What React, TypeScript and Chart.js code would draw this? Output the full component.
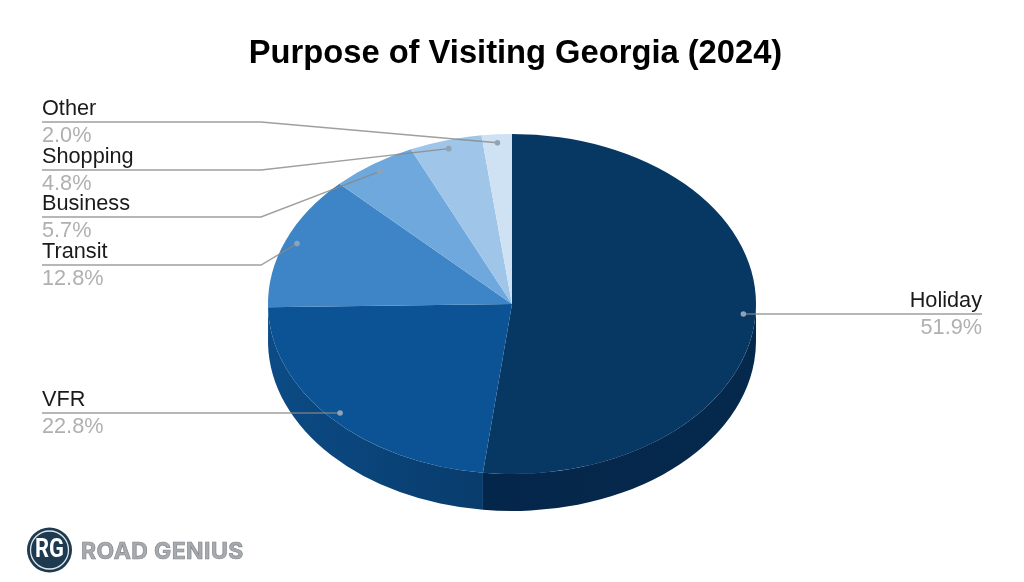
import React, { useEffect, useRef } from "react";
import { Chart, registerables } from "chart.js";

Chart.register(...registerables);

const categories = ["Holiday", "VFR", "Transit", "Business", "Shopping", "Other"];
const shares = [51.9, 22.8, 12.8, 5.7, 4.8, 2.0];
const topColors = ["#073763", "#0b5394", "#3d85c6", "#6fa8dc", "#9fc5e8", "#cfe2f3"];
const wallColors = [
  ["#05294c", "#04264a"],
  ["#083c6c", "#0c4b85"],
  ["#2a6aa5", "#2a6aa5"],
  ["#4f88bd", "#4f88bd"],
  ["#7aa4c8", "#7aa4c8"],
  ["#a5c0d6", "#a5c0d6"],
];
const chartTitle = "Purpose of Visiting Georgia (2024)";
const brandName = "ROAD GENIUS";
const brandInitials = "RG";

const FONT = '"Liberation Sans", Arial, sans-serif';
const CX = 512;
const CY = 304;
const RX = 244;
const RY = 170;
const DEPTH = 37;

const leaderRows: Record<string, { y: number; side: "left" | "right"; elbow: boolean }> = {
  Holiday: { y: 314, side: "right", elbow: false },
  VFR: { y: 413, side: "left", elbow: false },
  Transit: { y: 265, side: "left", elbow: true },
  Business: { y: 217, side: "left", elbow: true },
  Shopping: { y: 170, side: "left", elbow: true },
  Other: { y: 122, side: "left", elbow: true },
};

const pie3d = {
  id: "pie3d",
  beforeDatasetDraw(chart: any) {
    const ctx = chart.ctx as CanvasRenderingContext2D;
    const arcs = chart.getDatasetMeta(0).data;
    ctx.save();
    arcs.forEach((arc: any, i: number) => {
      const a0 = Math.max(arc.startAngle, 0);
      const a1 = Math.min(arc.endAngle, Math.PI);
      if (a1 <= a0) return;
      const xa = CX + RX * Math.cos(a0);
      const xb = CX + RX * Math.cos(a1);
      const grad = ctx.createLinearGradient(xa, 0, xb, 0);
      grad.addColorStop(0, wallColors[i][0]);
      grad.addColorStop(1, wallColors[i][1]);
      ctx.beginPath();
      ctx.ellipse(CX, CY, RX, RY, 0, a0, a1);
      ctx.ellipse(CX, CY + DEPTH, RX, RY, 0, a1, a0, true);
      ctx.closePath();
      ctx.fillStyle = grad;
      ctx.fill();
    });
    ctx.restore();
    const first = arcs[0];
    ctx.save();
    ctx.translate(CX, CY);
    ctx.scale(RX / first.outerRadius, RY / first.outerRadius);
    ctx.translate(-first.x, -first.y);
  },
  afterDatasetDraw(chart: any) {
    chart.ctx.restore();
  },
  afterDatasetsDraw(chart: any) {
    const ctx = chart.ctx as CanvasRenderingContext2D;
    const arcs = chart.getDatasetMeta(0).data;
    ctx.save();
    categories.forEach((name, i) => {
      const arc = arcs[i];
      const mid = (arc.startAngle + arc.endAngle) / 2;
      const dx = CX + RX * 0.95 * Math.cos(mid);
      const dy = CY + RY * 0.95 * Math.sin(mid);
      const row = leaderRows[name];
      const left = row.side === "left";

      ctx.strokeStyle = "rgba(135,135,135,0.8)";
      ctx.lineWidth = 1.4;
      ctx.beginPath();
      if (left) {
        ctx.moveTo(42, row.y);
        if (row.elbow) {
          ctx.lineTo(261, row.y);
          ctx.lineTo(dx, dy);
        } else {
          ctx.lineTo(dx, row.y);
        }
      } else {
        ctx.moveTo(982, row.y);
        ctx.lineTo(dx, row.y);
      }
      ctx.stroke();

      ctx.fillStyle = "#8fa3b3";
      ctx.beginPath();
      ctx.arc(dx, row.elbow ? dy : row.y, 2.8, 0, Math.PI * 2);
      ctx.fill();

      ctx.textAlign = left ? "left" : "right";
      ctx.textBaseline = "alphabetic";
      const tx = left ? 42 : 982;
      ctx.font = `21.7px ${FONT}`;
      ctx.fillStyle = "#1a1a1a";
      ctx.fillText(name, tx, row.y - 7);
      ctx.fillStyle = "#b0b0b0";
      ctx.fillText(`${shares[i].toFixed(1)}%`, tx, row.y + 20);
    });

    // brand mark
    ctx.fillStyle = "#1d3a50";
    ctx.beginPath();
    ctx.arc(49.5, 550, 22.5, 0, Math.PI * 2);
    ctx.fill();
    ctx.strokeStyle = "#dfe6ea";
    ctx.lineWidth = 1.3;
    ctx.beginPath();
    ctx.arc(49.5, 550, 19, 0, Math.PI * 2);
    ctx.stroke();
    ctx.textAlign = "center";
    ctx.textBaseline = "middle";
    ctx.fillStyle = "#ffffff";
    ctx.font = `bold 25px "Roboto", ${FONT}`;
    ctx.fillText(brandInitials, 49.5, 551, 29);
    ctx.textAlign = "left";
    ctx.textBaseline = "alphabetic";
    ctx.font = `bold 23px "Inter", "DejaVu Sans", ${FONT}`;
    (ctx as any).letterSpacing = "0.4px";
    ctx.fillStyle = "#a6abae";
    ctx.strokeStyle = "#85898d";
    ctx.lineWidth = 0.7;
    ctx.fillText(brandName, 81, 559);
    ctx.strokeText(brandName, 81, 559);
    ctx.restore();
  },
};

export default function App() {
  const ref = useRef<HTMLCanvasElement>(null);
  useEffect(() => {
    const chart = new Chart(ref.current as HTMLCanvasElement, {
      type: "pie",
      data: {
        labels: categories,
        datasets: [
          {
            data: shares,
            backgroundColor: topColors,
            borderWidth: 0,
            clip: false,
          } as any,
        ],
      },
      options: {
        animation: false,
        responsive: false,
        events: [],
        layout: { padding: { left: 7 } },
        plugins: {
          legend: { display: false },
          tooltip: { enabled: false },
          title: {
            display: true,
            text: chartTitle,
            color: "#000000",
            font: { family: FONT, size: 32.7, weight: "bold", lineHeight: 1.2 },
            padding: { top: 34, bottom: 0 },
          },
        },
      },
      plugins: [pie3d],
    });
    return () => chart.destroy();
  }, []);
  return (
    <div style={{ position: "absolute", left: 0, top: 0, width: 1024, height: 582, background: "#ffffff" }}>
      <canvas ref={ref} width={1024} height={582} style={{ display: "block" }} />
    </div>
  );
}
